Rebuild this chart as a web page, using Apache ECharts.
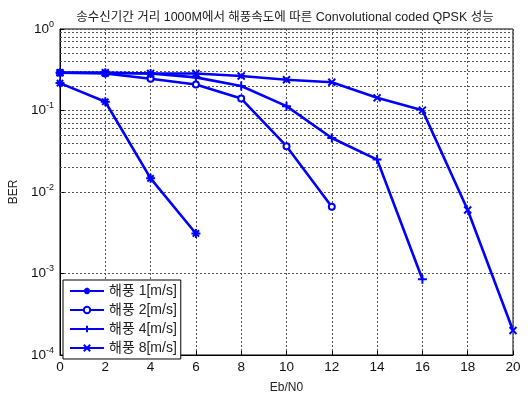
<!DOCTYPE html>
<html>
<head>
<meta charset="utf-8">
<script src="https://cdn.jsdelivr.net/npm/echarts@6/dist/echarts.min.js"></script>
<style>
  html, body { margin: 0; padding: 0; background: #fff; }
  #main { width: 532px; height: 399px; }
</style>
</head>
<body>
<div id="main"></div>
<script>
// Eb/N0 (dB) points
var ebN0 = [0, 2, 4, 6, 8, 10, 12, 14, 16, 18, 20]
// BER per sea wind speed
var ber1 = [0.217, 0.128, 0.0147, 0.0031]
var ber2 = [0.29, 0.285, 0.245, 0.208, 0.14, 0.0365, 0.0066]
var ber4 = [0.29, 0.29, 0.285, 0.255, 0.2, 0.113, 0.046, 0.025, 0.00085]
var ber8 = [0.29, 0.29, 0.285, 0.285, 0.265, 0.238, 0.222, 0.143, 0.101, 0.006, 0.0002]
var names = ['해풍 1[m/s]', '해풍 2[m/s]', '해풍 4[m/s]', '해풍 8[m/s]']
var decades = [-4, -3, -2, -1]

var BLUE = '#0000ff'
var FONT = '"Liberation Sans", "Noto Sans CJK KR", sans-serif'

var symStar = 'path://M5,0V10M0,5H10M1.5,1.5L8.5,8.5M8.5,1.5L1.5,8.5'
var symPlus = 'path://M5,0V10M0,5H10'
var symCross = 'path://M0,0L10,10M10,0L0,10'

function pairs (ys) {
  return ys.map(function (y, i) { return [ebN0[i], y] })
}

// minor log grid lines (2..9 x 10^d)
var minorLines = []
decades.forEach(function (d) {
  for (var k = 2; k <= 9; k++) {
    minorLines.push({ yAxis: k * Math.pow(10, d) })
  }
})

function lineSeries (name, ys, symbol, size) {
  return {
    name: name,
    type: 'line',
    data: pairs(ys),
    symbol: symbol,
    symbolSize: size,
    showAllSymbol: true,
    lineStyle: { color: BLUE, width: 2.6 },
    itemStyle: { color: BLUE, borderColor: BLUE, borderWidth: 2 },
    z: 5
  }
}

var chart = echarts.init(document.getElementById('main'), null, { renderer: 'canvas' })

chart.setOption({
  animation: false,
  backgroundColor: '#fff',
  textStyle: { fontFamily: FONT },
  title: {
    text: '송수신기간 거리 1000M에서 해풍속도에 따른 Convolutional coded QPSK 성능',
    left: 280,
    textAlign: 'center',
    top: 6,
    textStyle: { fontSize: 12.5, fontWeight: 'normal', color: '#222', fontFamily: FONT }
  },
  grid: {
    left: 57,
    right: 19,
    top: 29,
    bottom: 38,
    show: true,
    borderColor: '#000',
    borderWidth: 1,
    backgroundColor: 'transparent'
  },
  legend: {
    orient: 'vertical',
    left: 63,
    top: 280,
    data: names,
    itemWidth: 34,
    itemHeight: 8,
    itemGap: 5,
    padding: [4, 4, 4, 6],
    borderColor: '#000',
    borderWidth: 1,
    backgroundColor: '#fff',
    textStyle: { fontSize: 14, color: '#222', fontFamily: FONT }
  },
  xAxis: {
    type: 'value',
    min: 0,
    max: 20,
    interval: 2,
    name: 'Eb/N0',
    nameLocation: 'middle',
    nameGap: 27,
    nameTextStyle: { fontSize: 12, color: '#222' },
    axisLine: { lineStyle: { color: '#000' } },
    axisTick: { inside: true, length: 4, lineStyle: { color: '#000' } },
    axisLabel: { fontSize: 13.5, color: '#111', margin: 6 },
    splitLine: { lineStyle: { color: '#555', type: [2, 2], width: 1 } }
  },
  yAxis: {
    type: 'log',
    logBase: 10,
    min: 0.0001,
    max: 1,
    name: 'BER',
    nameLocation: 'middle',
    nameGap: 40,
    nameTextStyle: { fontSize: 12, color: '#222' },
    axisLine: { lineStyle: { color: '#000' } },
    axisTick: { inside: true, length: 4, lineStyle: { color: '#000' } },
    axisLabel: {
      margin: 6,
      formatter: function (v) {
        return '{b|10}{s|' + Math.round(Math.log10(v)) + '}'
      },
      rich: {
        b: { fontSize: 13.5, color: '#111' },
        s: { fontSize: 9, color: '#111', padding: [0, 0, 9, 0] }
      }
    },
    splitLine: { lineStyle: { color: '#555', type: [2, 2], width: 1 } }
  },
  series: [
    {
      name: 'minor-grid',
      type: 'line',
      data: [],
      silent: true,
      markLine: {
        silent: true,
        symbol: 'none',
        animation: false,
        label: { show: false },
        lineStyle: { color: '#555', type: [2, 2], width: 1 },
        data: minorLines
      },
      z: 1
    },
    lineSeries(names[0], ber1, symStar, 9),
    lineSeries(names[1], ber2, 'emptyCircle', 6),
    lineSeries(names[2], ber4, symPlus, 9),
    lineSeries(names[3], ber8, symCross, 7)
  ]
})
</script>
</body>
</html>
